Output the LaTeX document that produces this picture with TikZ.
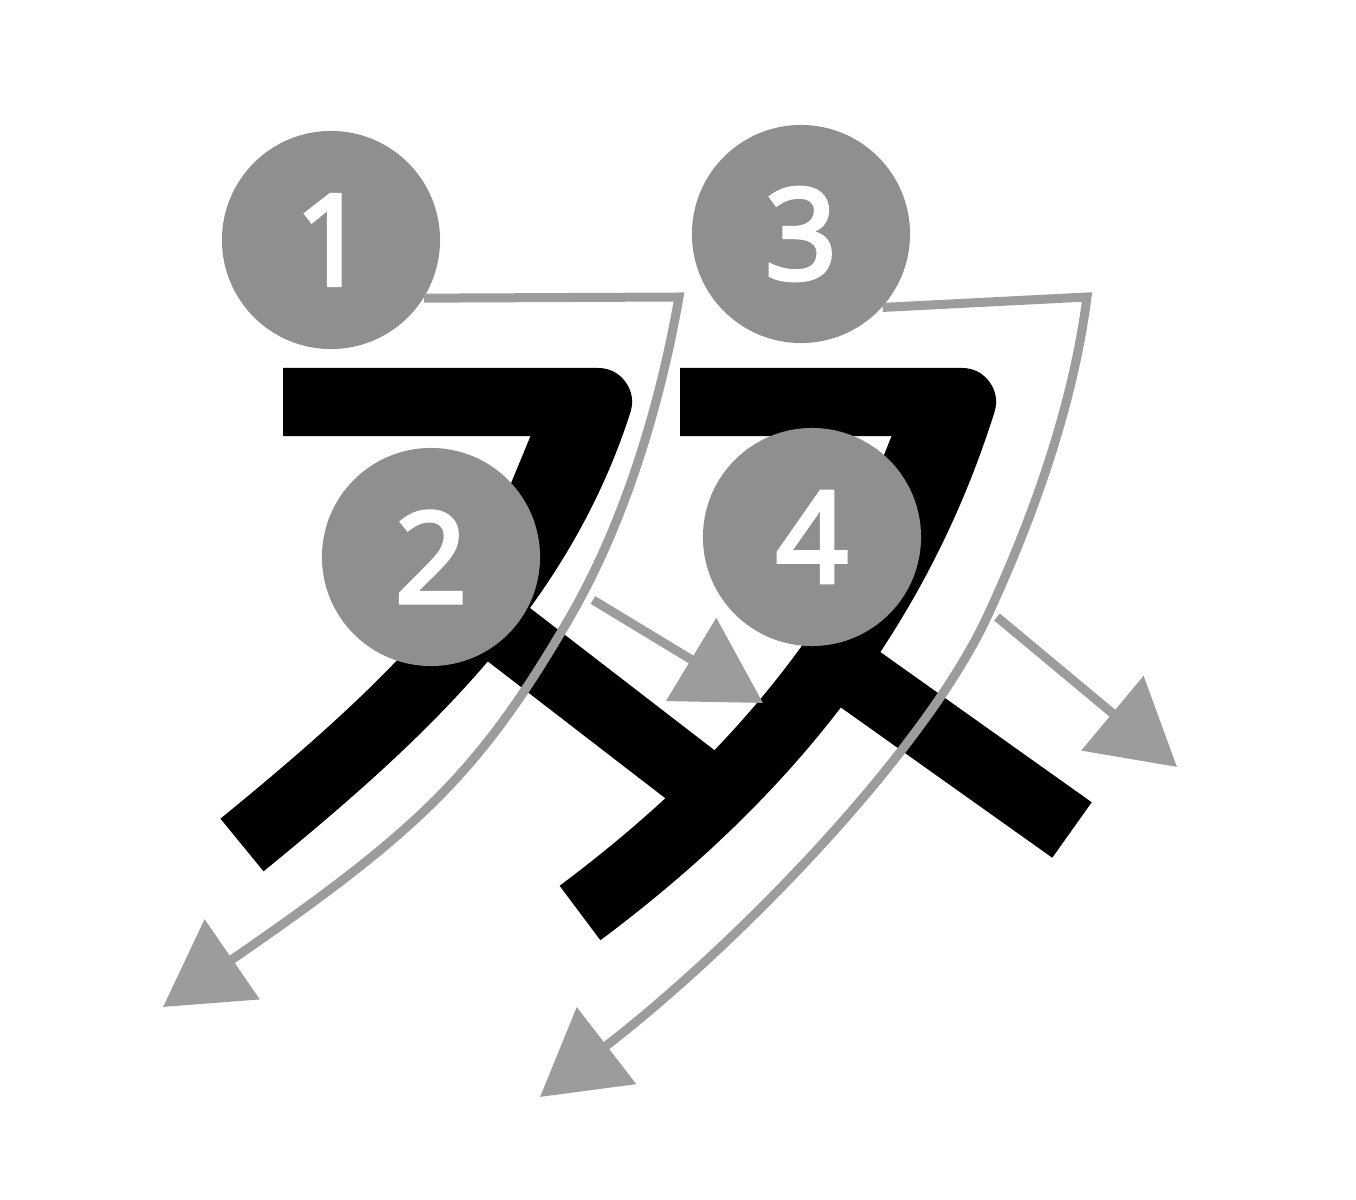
\documentclass[tikz,border=0pt]{standalone}
\usepackage{fontspec}
\setsansfont{Noto Sans}[AutoFakeBold=3]
\usepackage{tikz}
\usetikzlibrary{arrows.meta}
\definecolor{dotgrey}{HTML}{8F8F8F}
\definecolor{linegrey}{HTML}{9C9C9C}

\begin{document}
\begin{tikzpicture}[x=0.01cm, y=-0.01cm,
    kana/.style={line width=0.68cm, line cap=butt, line join=round},
    order/.style={linegrey, line width=0.09cm, -{Triangle[length=0.84cm, width=0.95cm]}},
    num/.style={circle, fill=dotgrey, minimum size=2.18cm, inner sep=0pt, text=white,
        font=\sffamily\bfseries\fontsize{36}{36}\selectfont}]
    \useasboundingbox (0,0) rectangle (1356,1200);
    % first su
    \draw[kana]
(283,402) --
(598,402) .. controls (537,592) and (396,719) ..
(242,845);
    \fill
(533,430) --
(590,430) --
(575,500) --
(500,510) --
cycle;
    \draw[kana]
(508,634) --
(735,809);
    % second su
    \draw[kana]
(680,402) --
(962,402) .. controls (902,592) and (785,760) ..
(580,913);
    \fill
(894,430) --
(955,430) --
(935,500) --
(870,490) --
cycle;
    \draw[kana]
(830,658) --
(1072,830);
    % stroke numbers
    \node[num] (c1) at (331,240) {1};
    \node[num] (c2) at (431,557) {2};
    \node[num] (c3) at (801,234) {3};
    \node[num] (c4) at (812,537) {4};
    % arrow ends
    \coordinate (bend1) at (679,297);
    \coordinate (mid1) at (570,617);
    \coordinate (tip1) at (163,1007);
    \coordinate (start2) at (593,600);
    \coordinate (tip2) at (763,703);
    \coordinate (bend3) at (1087,297);
    \coordinate (mid3) at (987,617);
    \coordinate (tip3) at (540,1097);
    \coordinate (start4) at (997,617);
    \coordinate (tip4) at (1177,767);
    % stroke order
    \draw[order] (c1.-32) --
(bend1) .. controls (660,405) and (625,522) ..
(mid1) .. controls (480,772) and (420,830) ..
(tip1);
    \draw[order] (start2) -- (tip2);
    \draw[order] (c3.-42) --
(bend3) .. controls (1073,406) and (1033,518) ..
(mid3) .. controls (924,752) and (738,944) ..
(tip3);
    \draw[order] (start4) -- (tip4);
\end{tikzpicture}
\end{document}
